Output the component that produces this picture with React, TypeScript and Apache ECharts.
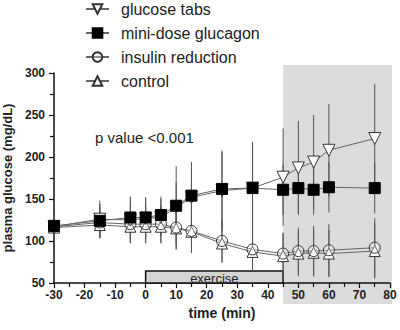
import React, { useEffect, useRef } from "react";
import * as echarts from "echarts";

const times = [-30, -15, -5, 0, 5, 10, 15, 25, 35, 45, 50, 55, 60, 75];
const glucoseTabs = [117, 126, 125, 127, 128, 140, 152, 160, 163, 176, 187, 194, 208, 222];
const glucoseTabsSD = [12, 22, 28, 25, 22, 30, 35, 48, 55, 58, 56, 56, 55, 65];
const glucagon = [118, 124, 128, 128, 131, 142, 154, 162, 163, 161, 163, 161, 164, 163];
const glucagonSD = [10, 20, 24, 24, 22, 47, 40, 44, 54, 30, 30, 30, 30, 30];
const insulin = [117, 122, 120, 120, 120, 116, 112, 100, 90, 85, 88, 88, 89, 92];
const insulinSD = [10, 18, 22, 22, 22, 26, 26, 26, 25, 25, 28, 30, 31, 35];
const control = [116, 119, 117, 117, 117, 115, 111, 97, 87, 82, 85, 86, 85, 88];
const controlSD = [10, 16, 18, 20, 20, 25, 25, 22, 24, 27, 27, 28, 28, 33];

const legendNames = ["glucose tabs", "mini-dose glucagon", "insulin reduction", "control"];
const shadeRange = [45, 80];
const exerciseRange = [0, 45];
const yMin = 50;
const yMax = 300;

const FONT = "Liberation Sans, Arial, sans-serif";

function errSeries(vals: number[], sds: number[], z: number) {
  return {
    type: "custom",
    silent: true,
    z,
    renderItem: (_p: any, api: any) => {
      const x = api.value(0);
      const a = api.coord([x, api.value(1)]);
      const b = api.coord([x, api.value(2)]);
      return {
        type: "line",
        shape: { x1: a[0], y1: a[1], x2: b[0], y2: b[1] },
        style: { stroke: "#555", lineWidth: 1 },
      };
    },
    encode: { x: 0, y: [1, 2] },
    data: times.map((t, i) => [t, vals[i] - sds[i], vals[i] + sds[i]]),
  };
}

export default function App() {
  const ref = useRef<HTMLDivElement>(null);
  useEffect(() => {
    const chart = echarts.init(ref.current!, null, { renderer: "svg" });
    const openItem = { color: "#fff", borderColor: "#333", borderWidth: 1 };
    const lineStyle = { color: "#666", width: 1 };
    chart.setOption({
      animation: false,
      textStyle: { fontFamily: FONT },
      grid: { left: 54, right: 10, top: 73, bottom: 47, outerBoundsMode: "none", containLabel: false },
      legend: {
        data: legendNames,
        orient: "vertical",
        left: 85,
        top: 1,
        padding: 0,
        itemWidth: 23,
        itemHeight: 12,
        itemGap: 8,
        textStyle: { fontSize: 16, color: "#222", fontFamily: FONT, padding: [0, 0, 0, 7] },
      },
      xAxis: {
        type: "value",
        min: -30,
        max: 80,
        interval: 10,
        name: "time (min)",
        nameLocation: "middle",
        nameGap: 23,
        nameTextStyle: { fontSize: 14, fontWeight: "bold", color: "#222" },
        axisLine: { onZero: false, lineStyle: { color: "#111", width: 1.5 } },
        axisTick: { length: 5, lineStyle: { color: "#111", width: 1.2 } },
        minorTick: { show: true, splitNumber: 2, length: 4, lineStyle: { color: "#111", width: 1.2 } },
        axisLabel: { fontSize: 12, fontWeight: "bold", color: "#222", margin: 6 },
        splitLine: { show: false },
      },
      yAxis: {
        type: "value",
        min: yMin,
        max: yMax,
        interval: 50,
        name: "plasma glucose (mg/dL)",
        nameLocation: "middle",
        nameGap: 36,
        nameTextStyle: { fontSize: 13, fontWeight: "bold", color: "#222" },
        axisLine: { show: true, onZero: false, lineStyle: { color: "#111", width: 1.5 } },
        axisTick: { show: true, length: 5, lineStyle: { color: "#111", width: 1.2 } },
        minorTick: { show: true, splitNumber: 2, length: 4, lineStyle: { color: "#111", width: 1.2 } },
        axisLabel: { fontSize: 12, fontWeight: "bold", color: "#222", margin: 9 },
        splitLine: { show: false },
      },
      graphic: [
        {
          type: "text",
          left: 95,
          top: 130,
          style: { text: "p value <0.001", fontSize: 15, fill: "#222", fontFamily: FONT },
        },
      ],
      series: [
        {
          type: "custom",
          silent: true,
          z: -1,
          renderItem: (_p: any, api: any) => {
            const a = api.coord([api.value(0), yMax]);
            const b = api.coord([api.value(1), yMin]);
            return {
              type: "rect",
              shape: { x: a[0], y: a[1] - 8, width: b[0] - a[0] + 2, height: b[1] - a[1] + 29 },
              style: { fill: "#dcdcdc" },
            };
          },
          encode: { x: [0, 1] },
          data: [shadeRange],
        },
        {
          type: "custom",
          silent: true,
          z: 1,
          renderItem: (_p: any, api: any) => {
            const a = api.coord([api.value(0), yMin]);
            const b = api.coord([api.value(1), yMin]);
            const h = 12;
            return {
              type: "group",
              children: [
                {
                  type: "rect",
                  shape: { x: a[0], y: a[1] - h, width: b[0] - a[0], height: h },
                  style: { fill: "#d4d4d4", stroke: "#111", lineWidth: 1.5 },
                },
                {
                  type: "text",
                  style: {
                    text: "exercise",
                    x: (a[0] + b[0]) / 2,
                    y: a[1] - h / 2 + 1,
                    align: "center",
                    verticalAlign: "middle",
                    fontSize: 13,
                    fontFamily: FONT,
                    fill: "#222",
                  },
                },
              ],
            };
          },
          encode: { x: [0, 1] },
          data: [exerciseRange],
        },
        errSeries(control, controlSD, 1),
        errSeries(insulin, insulinSD, 1),
        errSeries(glucoseTabs, glucoseTabsSD, 1),
        errSeries(glucagon, glucagonSD, 1),
        {
          name: "control",
          type: "line",
          z: 3,
          data: times.map((t, i) => [t, control[i]]),
          symbol: "triangle",
          symbolSize: 11,
          lineStyle,
          itemStyle: openItem,
        },
        {
          name: "insulin reduction",
          type: "line",
          z: 3,
          data: times.map((t, i) => [t, insulin[i]]),
          symbol: "circle",
          symbolSize: 11,
          lineStyle,
          itemStyle: { color: "rgba(255,255,255,0.3)", borderColor: "#333", borderWidth: 1 },
        },
        {
          name: "glucose tabs",
          type: "line",
          z: 4,
          data: times.map((t, i) => [t, glucoseTabs[i]]),
          symbol: "triangle",
          symbolRotate: 180,
          symbolSize: 12,
          lineStyle,
          itemStyle: openItem,
        },
        {
          name: "mini-dose glucagon",
          type: "line",
          z: 5,
          data: times.map((t, i) => [t, glucagon[i]]),
          symbol: "rect",
          symbolSize: 11,
          lineStyle,
          itemStyle: { color: "#000", borderColor: "#000", borderWidth: 1 },
        },
      ],
    });
    return () => chart.dispose();
  }, []);
  return <div ref={ref} style={{ position: "absolute", left: 0, top: 0, width: 400, height: 330 }} />;
}
